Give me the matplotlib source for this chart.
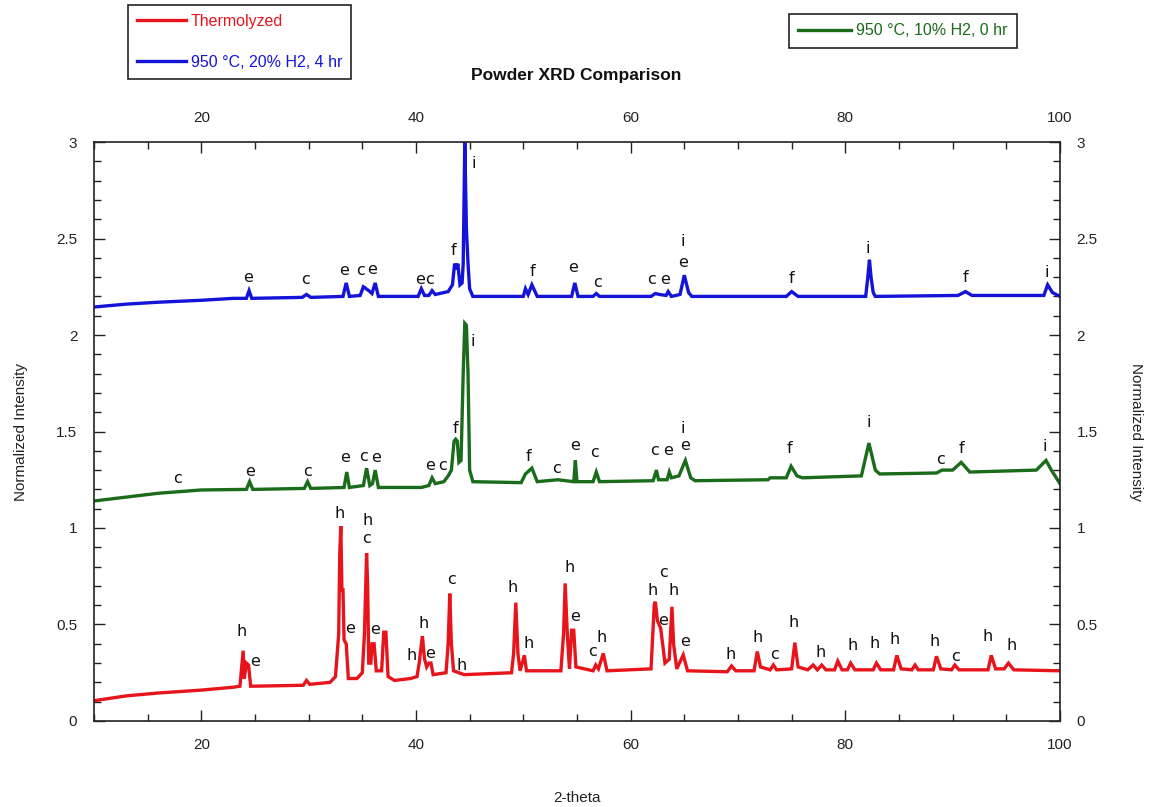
import matplotlib
matplotlib.use("Agg")
import matplotlib.pyplot as plt
from matplotlib.ticker import MultipleLocator, FuncFormatter
from matplotlib.lines import Line2D

plt.rcParams['font.family'] = ['Liberation Sans', 'DejaVu Sans']

# ---- traces (2-theta, normalized intensity, already offset) ----
red_x = [10, 13, 16, 20, 23, 23.6, 23.8, 23.9, 24.0, 24.2, 24.4, 24.6,
         29.5, 29.8, 30.1, 32.0, 32.5, 32.8, 32.9, 33.0, 33.1, 33.2, 33.3, 33.5, 33.7,
         34.5, 35.0, 35.2, 35.4, 35.5, 35.6, 35.8, 35.9, 36.1, 36.3, 36.8, 37.0, 37.2, 37.4,
         38.0, 39.5, 40.1, 40.3, 40.6, 40.8, 41.0, 41.2, 41.4, 41.6, 42.8, 43.0, 43.15, 43.3, 43.5,
         44.5, 48.9, 49.1, 49.3, 49.5, 49.7, 49.9, 50.1, 50.3, 53.5, 53.75, 53.9, 54.1, 54.3,
         54.5, 54.7, 54.9, 56.5, 56.75, 57.0, 57.45, 57.8, 61.9, 62.2, 62.3, 62.5, 62.8, 63.2,
         63.6, 63.85, 64.0, 64.3, 64.9, 65.3, 69.0, 69.4, 69.8, 71.5, 71.8, 72.1, 73.0, 73.3,
         73.6, 75.0, 75.3, 75.6, 76.5, 77.0, 77.4, 77.8, 78.2, 79.0, 79.3, 79.7, 80.2, 80.5,
         80.9, 82.6, 82.9, 83.3, 84.5, 84.8, 85.2, 86.2, 86.5, 86.8, 88.2, 88.5, 88.9, 89.9,
         90.2, 90.6, 93.3, 93.6, 94.0, 94.8, 95.2, 95.7, 100]
red_y = [0.105, 0.13, 0.145, 0.16, 0.175, 0.18, 0.30, 0.364, 0.22, 0.30, 0.29, 0.18,
         0.185, 0.21, 0.19, 0.20, 0.23, 0.45, 0.87, 1.01, 0.68, 0.68, 0.42, 0.40, 0.22,
         0.22, 0.25, 0.45, 0.87, 0.70, 0.30, 0.30, 0.40, 0.40, 0.26, 0.26, 0.46, 0.46, 0.23,
         0.21, 0.22, 0.23, 0.30, 0.44, 0.32, 0.28, 0.30, 0.30, 0.24, 0.25, 0.40, 0.66, 0.40, 0.26,
         0.24, 0.25, 0.35, 0.613, 0.35, 0.26, 0.30, 0.34, 0.26, 0.26, 0.45, 0.713, 0.45, 0.27,
         0.47, 0.47, 0.28, 0.26, 0.29, 0.27, 0.35, 0.26, 0.27, 0.60, 0.618, 0.52, 0.48, 0.30,
         0.32, 0.592, 0.40, 0.27, 0.342, 0.26, 0.255, 0.285, 0.26, 0.26, 0.36, 0.28, 0.265, 0.29,
         0.265, 0.27, 0.406, 0.28, 0.265, 0.29, 0.265, 0.29, 0.265, 0.265, 0.31, 0.265, 0.265, 0.30,
         0.265, 0.265, 0.30, 0.265, 0.265, 0.34, 0.27, 0.265, 0.29, 0.265, 0.265, 0.335, 0.27, 0.265,
         0.29, 0.265, 0.265, 0.34, 0.27, 0.27, 0.30, 0.265, 0.26]

green_x = [10, 13, 16, 20, 24.2, 24.5, 24.8, 29.6, 29.9, 30.2, 33.3, 33.55, 33.8,
           35.1, 35.4, 35.7, 35.95, 36.2, 36.5, 40.5, 41.2, 41.5, 41.8, 42.6, 43.0, 43.3,
           43.55, 43.7, 43.85, 44.0, 44.2, 44.4, 44.55, 44.7, 44.85, 45.0, 45.3, 49.8, 50.2,
           50.8, 51.3, 53.2, 54.7, 54.85, 55.0, 56.5, 56.8, 57.1, 62.1, 62.4, 62.6, 63.4, 63.6,
           63.8, 64.5, 65.1, 65.6, 66.0, 72.8, 73.0, 74.5, 74.95, 75.5, 76.0, 81.5, 82.2, 82.8,
           83.2, 88.5, 89.0, 90.0, 90.8, 91.6, 97.8, 98.7, 99.2, 100]
green_y = [1.14, 1.16, 1.18, 1.197, 1.20, 1.24, 1.20, 1.205, 1.24, 1.205, 1.21, 1.29, 1.21,
           1.22, 1.31, 1.22, 1.23, 1.30, 1.21, 1.21, 1.22, 1.26, 1.23, 1.24, 1.27, 1.30,
           1.45, 1.46, 1.45, 1.34, 1.35, 1.80, 2.06, 2.05, 1.80, 1.30, 1.24, 1.235, 1.28,
           1.31, 1.24, 1.25, 1.24, 1.35, 1.24, 1.24, 1.29, 1.24, 1.245, 1.30, 1.25, 1.25, 1.29,
           1.26, 1.27, 1.35, 1.26, 1.245, 1.25, 1.26, 1.26, 1.32, 1.27, 1.26, 1.27, 1.44, 1.30,
           1.28, 1.285, 1.30, 1.30, 1.34, 1.29, 1.30, 1.35, 1.30, 1.23]

blue_x = [10, 13, 16, 20, 23, 24.2, 24.45, 24.7, 29.4, 29.8, 30.2, 33.2, 33.5, 33.8,
          34.8, 35.1, 35.6, 35.9, 36.2, 36.5, 40.2, 40.5, 40.8, 41.2, 41.5, 41.8, 43.0, 43.4,
          43.6, 43.75, 43.9, 44.1, 44.3, 44.4, 44.55, 44.7, 44.85, 45.0, 45.3, 50.0, 50.2,
          50.45, 50.8, 51.3, 54.5, 54.8, 55.1, 56.5, 56.8, 57.1, 61.9, 62.3, 62.7, 63.3, 63.5,
          63.8, 64.6, 65.0, 65.4, 65.7, 74.5, 75.0, 75.6, 81.9, 82.1, 82.25, 82.4, 82.6, 82.8,
          90.5, 91.2, 91.8, 98.5, 98.85, 99.3, 100]
blue_y = [2.145, 2.16, 2.17, 2.18, 2.19, 2.19, 2.23, 2.19, 2.195, 2.21, 2.195, 2.20, 2.27, 2.20,
          2.205, 2.25, 2.23, 2.215, 2.27, 2.20, 2.20, 2.24, 2.205, 2.205, 2.23, 2.21, 2.225, 2.26,
          2.37, 2.34, 2.37, 2.26, 2.27, 2.37, 3.0, 2.55, 2.37, 2.24, 2.20, 2.20, 2.24,
          2.21, 2.26, 2.20, 2.20, 2.27, 2.20, 2.20, 2.215, 2.20, 2.20, 2.215, 2.21, 2.205, 2.225,
          2.20, 2.21, 2.31, 2.22, 2.20, 2.20, 2.225, 2.20, 2.20, 2.30, 2.39, 2.30, 2.22, 2.20,
          2.205, 2.225, 2.205, 2.205, 2.26, 2.22, 2.20]

# ---- phase labels (letter, 2-theta, intensity) ----
red_labels = [("h", 23.77, 0.463), ("e", 25.02, 0.306), ("h", 32.87, 1.076), ("e", 33.90, 0.480),
              ("h", 35.45, 1.038), ("c", 35.36, 0.947), ("e", 36.23, 0.472), ("h", 39.63, 0.338),
              ("h", 40.75, 0.506), ("e", 41.34, 0.351), ("c", 43.30, 0.731), ("h", 44.23, 0.290),
              ("h", 49.04, 0.693), ("h", 50.51, 0.399), ("h", 54.28, 0.796), ("e", 54.83, 0.540),
              ("c", 56.49, 0.359), ("h", 57.34, 0.434), ("h", 62.09, 0.675), ("c", 63.06, 0.768),
              ("h", 63.98, 0.675), ("e", 63.06, 0.523), ("e", 65.05, 0.411), ("h", 69.29, 0.342),
              ("h", 71.79, 0.434), ("c", 73.38, 0.347), ("h", 75.19, 0.509), ("h", 77.70, 0.356),
              ("h", 80.65, 0.389), ("h", 82.75, 0.399), ("h", 84.60, 0.423), ("h", 88.32, 0.411),
              ("c", 90.23, 0.333), ("h", 93.30, 0.437), ("h", 95.51, 0.389)]
green_labels = [("c", 17.76, 1.257), ("e", 24.55, 1.295), ("c", 29.91, 1.295), ("e", 33.43, 1.364),
                ("c", 35.11, 1.370), ("e", 36.29, 1.364), ("e", 41.34, 1.326), ("c", 42.46, 1.326),
                ("f", 43.71, 1.517), ("i", 45.33, 1.965), ("f", 50.51, 1.373), ("c", 53.09, 1.309),
                ("e", 54.83, 1.430), ("c", 56.60, 1.390), ("c", 62.21, 1.399), ("e", 63.50, 1.399),
                ("i", 64.90, 1.517), ("e", 65.05, 1.425), ("f", 74.82, 1.413), ("i", 82.23, 1.546),
                ("c", 88.87, 1.356), ("f", 90.79, 1.413), ("i", 98.60, 1.421)]
blue_labels = [("e", 24.36, 2.297), ("c", 29.75, 2.288), ("e", 33.27, 2.333), ("c", 34.83, 2.333),
               ("e", 35.89, 2.340), ("e", 40.35, 2.288), ("c", 41.28, 2.288), ("f", 43.52, 2.440),
               ("i", 45.39, 2.890), ("f", 50.87, 2.328), ("e", 54.67, 2.349), ("c", 56.92, 2.271),
               ("c", 61.93, 2.288), ("e", 63.24, 2.288), ("i", 64.89, 2.483), ("e", 64.89, 2.375),
               ("f", 75.02, 2.294), ("i", 82.08, 2.449), ("f", 91.21, 2.297), ("i", 98.81, 2.323)]

RED, GREEN, BLUE = '#e8141b', '#1a6b1a', '#1414d8'

fig = plt.figure(figsize=(11.53, 8.07), dpi=100, facecolor='white')
ax = fig.add_axes([0.0815, 0.1066, 0.8378, 0.7174])

ax.plot(red_x, red_y, color=RED, lw=2.4, solid_joinstyle='miter')
ax.plot(green_x, green_y, color=GREEN, lw=2.4, solid_joinstyle='miter')
ax.plot(blue_x, blue_y, color=BLUE, lw=2.4, solid_joinstyle='miter')

for labels in (red_labels, green_labels, blue_labels):
    for s, x, y in labels:
        ax.text(x, y, s, ha='center', va='center', fontsize=11.5, color='#111111',
                family=['DejaVu Sans'])

ax.set_xlim(10, 100)
ax.set_ylim(0, 3)
fmt = FuncFormatter(lambda v, p: f"{v:g}")
ax.xaxis.set_major_locator(MultipleLocator(20))
ax.xaxis.set_minor_locator(MultipleLocator(5))
ax.yaxis.set_major_locator(MultipleLocator(0.5))
ax.yaxis.set_minor_locator(MultipleLocator(0.1))
ax.yaxis.set_major_formatter(fmt)
ax.tick_params(which='both', direction='in', top=True, right=True,
               labeltop=True, labelright=True, labelsize=11, pad=12, colors='#222222')
ax.tick_params(which='major', length=8, width=1)
ax.tick_params(which='minor', length=5, width=1)
for sp in ax.spines.values():
    sp.set_linewidth(1.2)
    sp.set_color('#222222')

ax.set_xlabel("2-theta", fontsize=11, labelpad=28, color='#222222')
ax.set_ylabel("Normalized Intensity", fontsize=11, labelpad=20, color='#222222')
sec = ax.secondary_yaxis('right')
sec.set_yticks([])
sec.spines['right'].set_visible(False)
sec.set_ylabel("Normalized Intensity", fontsize=11, rotation=270, labelpad=60, color='#222222')

fig.text(0.5, 0.906, "Powder XRD Comparison", ha='center', va='center',
         fontsize=12.5, fontweight='bold', color='#111111')

h_red = Line2D([], [], color=RED, lw=2.4)
h_blue = Line2D([], [], color=BLUE, lw=2.4)
h_green = Line2D([], [], color=GREEN, lw=2.4)

leg1 = fig.legend([h_red, h_blue], ["Thermolyzed", "950 °C, 20% H2, 4 hr"],
                  loc='upper left', bbox_to_anchor=(0.111, 0.994), fontsize=11.5,
                  labelcolor='linecolor', frameon=True, fancybox=False, edgecolor='#222222',
                  framealpha=1, handlelength=3.1, handletextpad=0.3, labelspacing=1.65,
                  borderpad=0.55, borderaxespad=0)
leg1.get_frame().set_linewidth(1.2)
leg2 = fig.legend([h_green], ["950 °C, 10% H2, 0 hr"],
                  loc='upper left', bbox_to_anchor=(0.684, 0.983), fontsize=11.5,
                  labelcolor='linecolor', frameon=True, fancybox=False, edgecolor='#222222',
                  framealpha=1, handlelength=3.3, handletextpad=0.3,
                  borderpad=0.6, borderaxespad=0)
leg2.get_frame().set_linewidth(1.2)

fig.savefig("out.png", dpi=100, facecolor='white')
